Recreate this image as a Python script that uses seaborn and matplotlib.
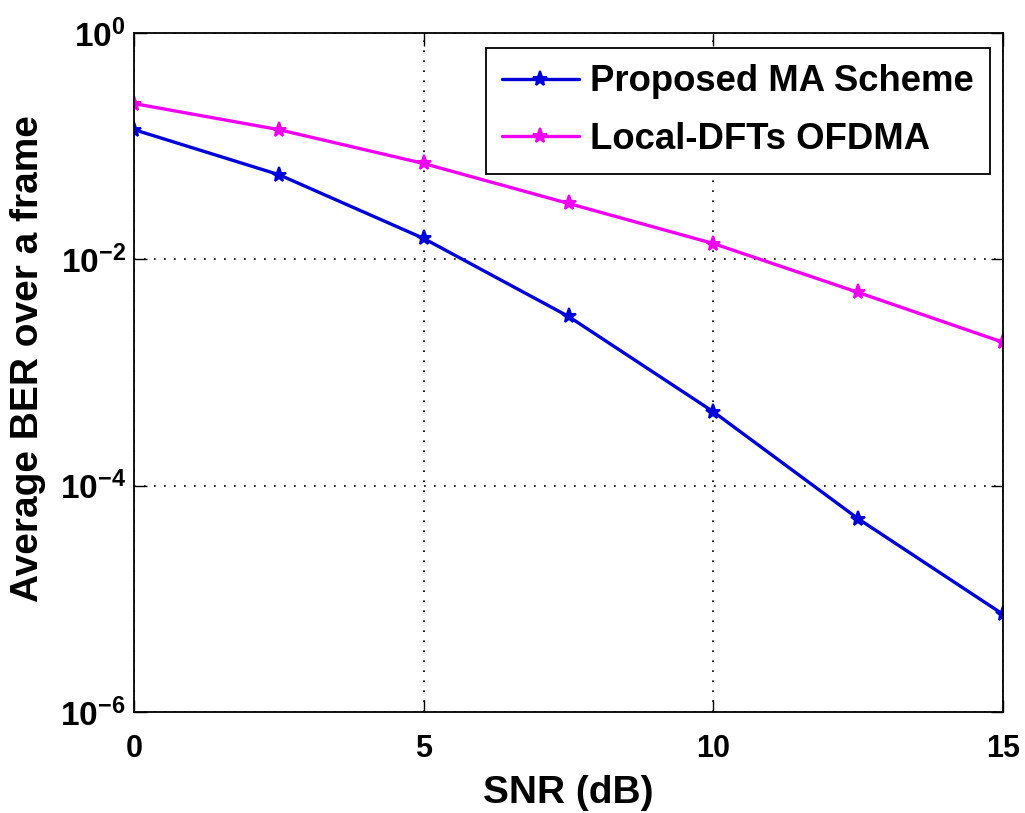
import numpy as np
import pandas as pd
import matplotlib
matplotlib.use("Agg")
import matplotlib.pyplot as plt
import seaborn as sns

# Datos
snr_db = [0, 2.5, 5, 7.5, 10, 12.5, 15]
ber_proposed = [0.14, 0.056, 0.0153, 0.00313, 4.5e-4, 5.1e-5, 7.3e-6]
ber_local_dft = [0.238, 0.14, 0.0703, 0.0312, 0.0138, 0.0051, 0.00185]
series_names = ["Proposed MA Scheme", "Local-DFTs OFDMA"]
y_ticks = [1e-6, 1e-4, 1e-2, 1e0]
y_tick_labels = [r"$10^{-6}$", r"$10^{-4}$", r"$10^{-2}$", r"$10^{0}$"]
x_ticks = [0, 5, 10, 15]

df = pd.DataFrame({
    "snr": snr_db * 2,
    "ber": ber_proposed + ber_local_dft,
    "serie": [series_names[0]] * len(snr_db) + [series_names[1]] * len(snr_db),
})

sns.set_style("ticks")
plt.rcParams["font.family"] = ["Liberation Sans", "DejaVu Sans"]
plt.rcParams["font.weight"] = "bold"
plt.rcParams["mathtext.fontset"] = "custom"
plt.rcParams["mathtext.rm"] = "Liberation Sans:bold"
plt.rcParams["mathtext.it"] = "Liberation Sans:bold"
plt.rcParams["mathtext.bf"] = "Liberation Sans:bold"
for k in ["text.color", "axes.labelcolor", "xtick.color", "ytick.color", "axes.edgecolor"]:
    plt.rcParams[k] = "black"

fig = plt.figure(figsize=(10.25, 8.13), dpi=100)
ax = fig.add_axes([134 / 1025, 1 - 712 / 813, 869 / 1025, 679 / 813])

palette = {series_names[0]: "#0000d8", series_names[1]: "#f000f0"}
sns.lineplot(data=df, x="snr", y="ber", hue="serie", palette=palette,
             marker="*", markersize=11, markeredgewidth=1.5, linewidth=2.4,
             ax=ax, legend=True)
for ln in ax.lines:
    ln.set_markeredgecolor(ln.get_color())
    ln.set_markerfacecolor(ln.get_color())

ax.set_yscale("log")
ax.set_xlim(0, 15)
ax.set_ylim(1e-6, 1)
ax.set_xticks(x_ticks)
ax.set_xticklabels([str(t) for t in x_ticks])
ax.set_yticks(y_ticks)
ax.set_yticklabels(y_tick_labels)
ax.minorticks_off()

ax.tick_params(axis="both", direction="in", length=9, width=1, top=True, right=True,
               colors="black")
ax.tick_params(axis="x", labelsize=22, pad=16)
ax.tick_params(axis="y", labelsize=24, pad=6)
for s in ax.spines.values():
    s.set_visible(True)
    s.set_linewidth(1.3)
    s.set_color("black")

ax.grid(True, which="major", color="black", linestyle=(0, (1, 5)), linewidth=1.2)

ax.set_xlabel("SNR (dB)", fontsize=28, fontweight="bold")
ax.set_ylabel("Average BER over a frame", fontsize=28, fontweight="bold")
ax.xaxis.set_label_coords(0.5, -0.093)
ax.yaxis.set_label_coords(-0.101, 0.52)

leg = ax.legend(loc="upper right", bbox_to_anchor=(990 / 1025, 1 - 48 / 813),
                bbox_transform=fig.transFigure, borderaxespad=0, title=None,
                fontsize=26.3, frameon=True, fancybox=False, edgecolor="black",
                framealpha=1, handlelength=2.1, handletextpad=0.3,
                borderpad=0.45, labelspacing=0.62)
leg.get_frame().set_linewidth(1.3)
for t in leg.get_texts():
    t.set_fontweight("bold")
for h in leg.legend_handles:
    h.set_markeredgecolor(h.get_color())
    h.set_markerfacecolor(h.get_color())

fig.savefig("out.png", dpi=100)
